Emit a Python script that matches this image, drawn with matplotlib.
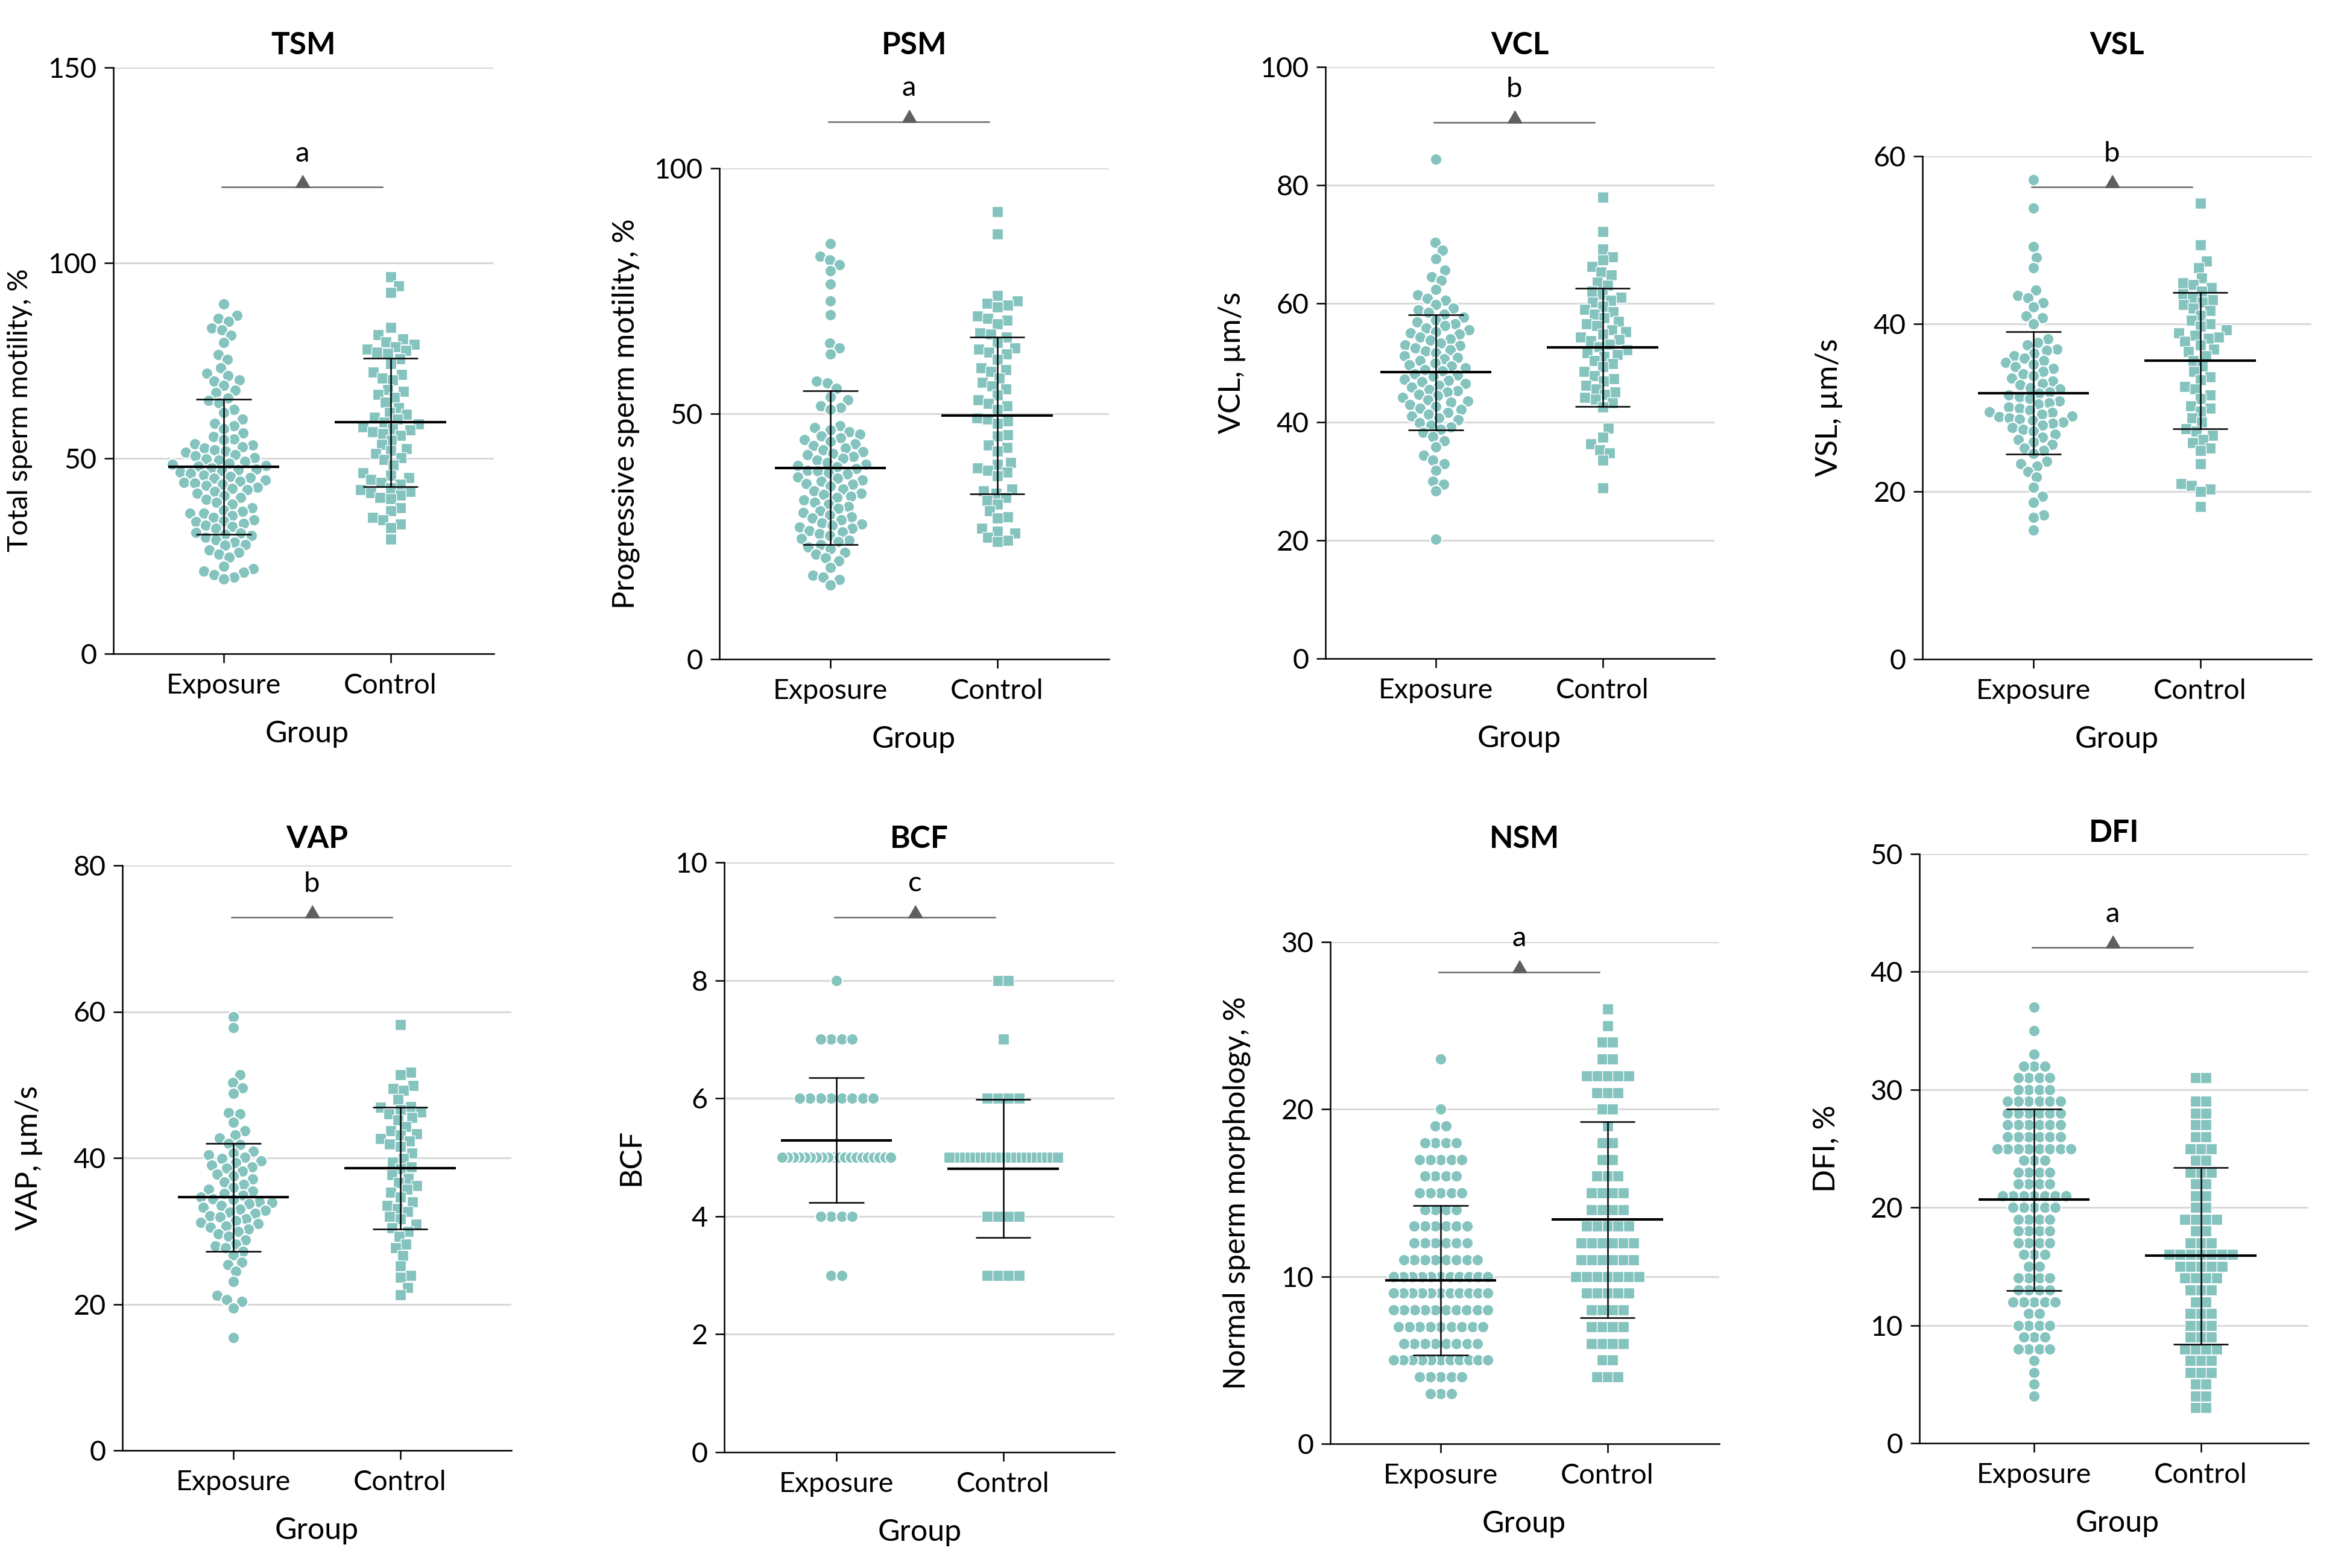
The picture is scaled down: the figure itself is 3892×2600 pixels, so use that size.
import numpy as np
import matplotlib.pyplot as plt
from collections import defaultdict

plt.rcParams['font.family'] = ['Lato', 'DejaVu Sans']

W, H, DPI = 3892, 2600, 200
TEAL = '#85c3bf'
PX_PER_CAT = 276.5   # pixel distance between the two group positions

groups = ['Exposure', 'Control']

# ---- values ---------------------------------------------------------------
tsm_exposure = [89.5, 86.6, 85.8, 85.1, 83.4, 82.9, 81.5, 79.6, 76.6, 75.3, 73.2, 71.8, 71.2, 70.0, 69.8,
                68.7, 67.5, 66.8, 65.5, 64.8, 64.2, 62.5, 61.8, 60.0, 59.0, 58.4, 57.6, 56.5, 55.6, 55.0,
                54.8, 53.7, 53.4, 53.0, 52.6, 52.2, 51.8, 51.5, 51.0, 50.6, 50.1, 49.9, 49.6, 49.2, 48.8,
                48.4, 48.2, 48.0, 47.6, 47.2, 47.0, 46.9, 46.5, 46.1, 45.7, 45.3, 45.0, 44.9, 44.5, 44.2,
                43.8, 43.6, 43.4, 43.0, 42.6, 42.3, 42.0, 41.5, 41.0, 40.5, 40.0, 39.5, 38.8, 38.2, 37.4,
                36.8, 36.4, 36.0, 35.9, 35.4, 34.8, 34.3, 34.0, 33.8, 33.4, 32.9, 32.5, 32.1, 31.0, 30.8,
                30.6, 30.2, 29.8, 29.2, 28.6, 28.0, 27.8, 26.6, 26.0, 25.5, 24.7, 22.4, 21.7, 21.2, 20.8,
                20.2, 19.6, 19.2]
tsm_control = [96.5, 94.2, 92.4, 83.5, 81.6, 80.5, 79.8, 79.2, 78.6, 78.0, 77.6, 77.2, 76.8, 75.4, 74.2,
               72.0, 71.4, 70.6, 70.0, 67.6, 67.2, 66.3, 65.6, 64.3, 63.0, 61.8, 61.2, 60.5, 60.0, 59.2,
               58.8, 58.1, 57.6, 57.2, 56.8, 56.4, 55.9, 54.7, 53.5, 52.5, 52.0, 51.2, 50.2, 49.7, 48.3,
               46.3, 45.7, 45.1, 44.6, 43.8, 43.4, 42.5, 42.0, 41.5, 41.2, 40.6, 39.9, 39.6, 37.4, 36.5,
               34.8, 34.2, 33.2, 32.3, 29.3]
tsm_mean = [47.9, 59.2]
tsm_sd = [17.3, 16.4]

psm_exposure = [84.6, 82.1, 81.3, 80.3, 79.1, 76.4, 73.0, 70.2, 64.4, 63.4, 62.2, 56.6, 56.3, 55.2, 53.4,
                52.8, 51.6, 51.2, 50.8, 47.6, 47.2, 46.7, 46.3, 45.8, 45.5, 45.1, 44.7, 44.4, 43.9, 43.5,
                43.0, 42.6, 42.2, 41.9, 41.6, 41.3, 40.9, 40.6, 40.1, 39.7, 39.4, 39.2, 38.8, 38.5, 38.3,
                37.9, 37.7, 37.1, 36.8, 36.5, 36.2, 35.8, 35.6, 35.2, 34.7, 34.3, 33.8, 33.5, 33.2, 32.9,
                32.4, 32.0, 31.6, 31.1, 30.7, 30.2, 29.8, 29.4, 29.0, 28.7, 28.4, 27.8, 27.5, 27.3, 26.9,
                26.6, 26.2, 25.9, 25.5, 25.2, 24.6, 24.2, 23.9, 23.3, 22.9, 22.5, 21.8, 21.4, 20.6, 20.0,
                18.7, 17.1, 16.7, 16.2, 15.1]
psm_control = [91.1, 86.6, 74.1, 73.0, 72.5, 72.1, 71.7, 69.9, 69.4, 69.0, 68.3, 66.5, 66.2, 65.6, 64.5,
               63.4, 63.1, 62.5, 62.2, 61.1, 59.3, 59.0, 58.6, 57.3, 56.4, 55.7, 55.0, 53.8, 52.8, 52.1,
               51.6, 50.9, 49.1, 48.9, 48.5, 48.0, 45.7, 45.5, 43.6, 43.1, 42.4, 40.1, 39.7, 39.0, 38.5,
               38.1, 37.4, 34.7, 34.3, 33.8, 32.9, 32.3, 31.6, 30.2, 29.0, 28.7, 26.6, 26.1, 25.7, 24.8,
               24.2, 23.9]
psm_mean = [39.0, 49.6]
psm_sd = [15.7, 16.0]

vcl_exposure = [84.4, 70.3, 69.0, 67.6, 65.6, 64.5, 63.9, 62.4, 61.5, 60.9, 60.6, 59.8, 59.2, 58.9, 58.5,
                58.2, 57.7, 57.2, 56.9, 56.6, 56.3, 55.9, 55.6, 55.3, 55.0, 54.8, 54.3, 54.0, 53.8, 53.3,
                53.0, 52.9, 52.5, 52.2, 52.0, 51.7, 51.2, 50.9, 50.7, 50.4, 49.9, 49.6, 49.4, 49.1, 48.8,
                48.6, 48.1, 47.9, 47.7, 47.2, 47.0, 46.8, 46.5, 46.2, 45.9, 45.5, 45.3, 45.1, 44.6, 44.4,
                44.1, 43.7, 43.5, 43.3, 42.9, 42.6, 42.3, 42.1, 41.6, 41.3, 41.0, 40.7, 40.4, 39.9, 39.5,
                39.1, 38.7, 38.2, 37.5, 36.8, 35.8, 34.4, 33.5, 32.9, 31.8, 30.0, 29.5, 28.3, 20.2]
vcl_control = [78.0, 72.2, 69.2, 67.9, 67.4, 66.3, 65.3, 64.8, 63.6, 63.1, 62.1, 61.6, 61.1, 60.6, 60.2,
               59.5, 59.0, 58.6, 58.2, 57.6, 57.0, 56.6, 56.3, 55.6, 55.3, 54.8, 54.3, 53.9, 53.7, 53.1,
               52.7, 52.2, 51.7, 51.4, 51.1, 50.4, 49.8, 49.3, 48.5, 47.8, 47.3, 46.9, 46.2, 45.6, 45.1,
               44.6, 44.1, 43.8, 43.2, 42.5, 38.9, 37.4, 36.3, 35.3, 34.8, 33.5, 28.8]
vcl_mean = [48.4, 52.6]
vcl_sd = [9.75, 10.0]

vsl_exposure = [57.2, 53.8, 49.2, 47.9, 46.7, 44.0, 43.4, 43.1, 42.5, 42.0, 40.9, 40.7, 40.0, 38.2, 37.8,
                37.5, 37.0, 36.8, 36.5, 36.2, 35.9, 35.6, 35.4, 35.2, 34.9, 34.7, 34.3, 34.0, 33.8, 33.5,
                33.2, 32.9, 32.7, 32.4, 32.2, 31.9, 31.7, 31.5, 31.3, 31.1, 30.8, 30.6, 30.4, 30.1, 29.9,
                29.7, 29.5, 29.4, 29.2, 29.0, 28.9, 28.8, 28.6, 28.5, 28.3, 28.1, 27.9, 27.6, 27.4, 27.2,
                26.8, 26.5, 26.2, 25.9, 25.6, 25.2, 24.9, 24.5, 23.6, 23.3, 23.0, 22.4, 21.7, 20.5, 19.4,
                18.7, 17.2, 16.9, 15.4]
vsl_control = [54.4, 49.4, 47.5, 46.7, 45.5, 44.9, 44.7, 44.3, 43.9, 43.6, 43.2, 42.9, 42.6, 42.3, 41.9,
               41.6, 41.0, 40.4, 40.0, 39.7, 39.3, 38.9, 38.6, 38.4, 38.3, 37.9, 37.5, 37.0, 36.7, 36.2,
               35.6, 35.0, 34.3, 33.7, 33.3, 32.5, 32.2, 31.5, 31.1, 30.2, 29.9, 29.6, 28.8, 28.3, 27.5,
               27.2, 26.7, 26.2, 25.8, 25.2, 24.9, 23.3, 20.9, 20.7, 20.3, 20.0, 18.2]
vsl_mean = [31.75, 35.6]
vsl_sd = [7.3, 8.15]

vap_exposure = [59.3, 57.8, 51.4, 50.3, 49.6, 48.8, 46.2, 46.0, 44.9, 43.7, 43.1, 42.7, 42.0, 41.8, 40.9,
                40.7, 40.4, 40.1, 39.9, 39.6, 39.3, 39.0, 38.8, 38.6, 38.2, 37.8, 37.5, 37.1, 36.7, 36.4,
                36.0, 35.7, 35.5, 35.1, 34.9, 34.6, 34.4, 34.3, 34.0, 33.9, 33.7, 33.5, 33.2, 33.0, 32.8,
                32.6, 32.4, 32.1, 31.9, 31.7, 31.4, 31.2, 31.0, 30.7, 30.5, 30.3, 29.9, 29.6, 29.3, 28.8,
                28.2, 28.0, 27.7, 27.2, 26.7, 25.7, 25.4, 24.5, 23.1, 21.2, 20.6, 20.4, 19.5, 15.4]
vap_control = [58.2, 51.7, 51.4, 49.9, 49.5, 49.2, 48.0, 47.0, 46.9, 46.6, 46.3, 46.0, 45.5, 45.2, 44.3,
               43.7, 43.3, 43.1, 42.6, 42.3, 41.9, 41.6, 40.7, 39.9, 39.4, 38.8, 38.5, 37.7, 37.2, 36.6,
               36.2, 35.7, 35.3, 34.6, 34.0, 33.5, 33.1, 32.7, 32.0, 31.7, 30.9, 30.4, 29.9, 29.3, 28.2,
               27.7, 26.6, 25.2, 23.9, 23.7, 22.3, 21.3]
vap_mean = [34.6, 38.6]
vap_sd = [7.4, 8.3]

# integer-valued measures: levels and how many men sit on each level
bcf_levels = [8, 7, 6, 5, 4, 3]
bcf_exposure_counts = [1, 4, 8, 20, 4, 2]
bcf_control_counts = [2, 1, 4, 22, 4, 4]
bcf_mean = [5.29, 4.81]
bcf_sd = [1.06, 1.17]

nsm_levels = [26, 25, 24, 23, 22, 21, 20, 19, 18, 17, 16, 15, 14, 13, 12, 11, 10, 9, 8, 7, 6, 5, 4, 3]
nsm_exposure_counts = [0, 0, 0, 1, 0, 0, 1, 2, 4, 5, 4, 5, 4, 6, 6, 8, 11, 11, 10, 9, 8, 11, 5, 3]
nsm_control_counts = [1, 1, 2, 2, 5, 3, 2, 1, 2, 2, 3, 4, 4, 5, 6, 6, 7, 5, 4, 4, 4, 2, 3, 0]
nsm_mean = [9.77, 13.4]
nsm_sd = [4.48, 5.87]

dfi_levels = [37, 36, 35, 34, 33, 32, 31, 30, 29, 28, 27, 26, 25, 24, 23, 22, 21, 20, 19, 18, 17, 16, 15,
              14, 13, 12, 11, 10, 9, 8, 7, 6, 5, 4, 3]
dfi_exposure_counts = [1, 0, 1, 0, 1, 3, 4, 4, 6, 6, 6, 6, 8, 3, 4, 4, 7, 5, 4, 4, 4, 3, 2,
                       4, 4, 5, 2, 4, 3, 4, 1, 1, 1, 1, 0]
dfi_control_counts = [0, 0, 0, 0, 0, 0, 2, 0, 2, 2, 2, 2, 3, 2, 3, 2, 2, 2, 4, 2, 3, 7, 5,
                      4, 3, 2, 3, 3, 3, 4, 3, 3, 2, 2, 2]
dfi_mean = [20.65, 15.9]
dfi_sd = [7.7, 7.5]

titles = ['TSM', 'PSM', 'VCL', 'VSL', 'VAP', 'BCF', 'NSM', 'DFI']
ylabels = ['Total sperm motility, %', 'Progressive sperm motility, %', 'VCL, µm/s', 'VSL, µm/s',
           'VAP, µm/s', 'BCF', 'Normal sperm morphology, %', 'DFI, %']
sig_letters = ['a', 'a', 'b', 'b', 'b', 'c', 'a', 'a']
bracket_y = [119.4, 109.5, 90.6, 56.3, 72.9, 9.07, 28.2, 42.06]
y_max = [150, 100, 100, 60, 80, 10, 30, 50]
y_step = [50, 50, 20, 20, 20, 2, 10, 10]

exposure = [tsm_exposure, psm_exposure, vcl_exposure, vsl_exposure, vap_exposure,
            np.repeat(bcf_levels, bcf_exposure_counts), np.repeat(nsm_levels, nsm_exposure_counts),
            np.repeat(dfi_levels, dfi_exposure_counts)]
control = [tsm_control, psm_control, vcl_control, vsl_control, vap_control,
           np.repeat(bcf_levels, bcf_control_counts), np.repeat(nsm_levels, nsm_control_counts),
           np.repeat(dfi_levels, dfi_control_counts)]
means = [tsm_mean, psm_mean, vcl_mean, vsl_mean, vap_mean, bcf_mean, nsm_mean, dfi_mean]
sds = [tsm_sd, psm_sd, vcl_sd, vsl_sd, vap_sd, bcf_sd, nsm_sd, dfi_sd]

# ---- layout (pixels in the 3892x2600 canvas) -------------------------------
# left, right, top, bottom of each plot area, x of the Exposure column, title y
boxes = [(188, 819, 112, 1084), (1193, 1839, 279, 1093), (2198, 2843, 111, 1092), (3188, 3833, 259, 1093),
         (203, 848, 1435, 2405), (1201, 1848, 1430, 2408), (2206, 2851, 1562, 2394), (3183, 3828, 1416, 2393)]
exposure_px = [371, 1377, 2381, 3372, 387, 1387, 2389, 3373]
title_px = [75, 75, 75, 75, 1392, 1392, 1392, 1381]
max_half = [92, 92, 92, 92, 92, 90, 78, 80]


def swarm_offsets(vals, py, d=17.5, maxhalf=90.0):
    """Beeswarm x offsets in pixels for values vals (py = pixels per unit)."""
    vals = np.asarray(vals, float)
    y = vals * py
    xs = np.zeros(len(y))
    done = []
    for i in np.argsort(y, kind='stable'):
        near = [j for j in done if abs(y[i] - y[j]) < d]
        cands = [0.0]
        for j in near:
            dx = np.sqrt(d * d - (y[i] - y[j]) ** 2)
            cands += [xs[j] + dx, xs[j] - dx]
        cands.sort(key=abs)
        for c in cands:
            if all((c - xs[j]) ** 2 + (y[i] - y[j]) ** 2 >= d * d - 1e-6 for j in near):
                xs[i] = c
                break
        done.append(i)
    rows = defaultdict(list)
    for i, v in enumerate(vals):
        rows[v].append(i)
    for idx in rows.values():
        if len(idx) > 1:
            idx = np.array(idx)
            xs[idx] -= (xs[idx].max() + xs[idx].min()) / 2
            m = np.abs(xs[idx]).max()
            if m > maxhalf:
                xs[idx] *= maxhalf / m
    m = np.abs(xs).max()
    if m > maxhalf:
        xs *= maxhalf / m
    return xs


fig = plt.figure(figsize=(W / DPI, H / DPI), dpi=DPI)

for k in range(8):
    l, r, t, b = boxes[k]
    ax = fig.add_axes([l / W, 1 - b / H, (r - l) / W, (b - t) / H])
    x0 = -(exposure_px[k] - l) / PX_PER_CAT
    ax.set_xlim(x0, x0 + (r - l) / PX_PER_CAT)
    ax.set_ylim(0, y_max[k])
    py = (b - t) / y_max[k]

    for g, (vals, mk, ms, mew) in enumerate([(exposure[k], 'o', 7.0, 0.8), (control[k], 's', 6.4, 0.45)]):
        off = swarm_offsets(vals, py, maxhalf=max_half[k]) / PX_PER_CAT
        ax.plot(g + off, vals, linestyle='none', marker=mk, ms=ms, mfc=TEAL, mec='white', mew=mew,
                zorder=2, clip_on=False)
        m, s = means[k][g], sds[k][g]
        ax.plot([g - 0.333, g + 0.333], [m, m], color='black', lw=1.5, zorder=4, solid_capstyle='butt')
        ax.plot([g, g], [m - s, m + s], color='black', lw=0.9, zorder=4)
        for yy in (m - s, m + s):
            ax.plot([g - 0.166, g + 0.166], [yy, yy], color='black', lw=0.9, zorder=4,
                    solid_capstyle='butt')

    # significance bracket
    by = bracket_y[k]
    ax.plot([-0.01, 0.95], [by, by], color='#6a6a6a', lw=0.9, clip_on=False, zorder=3)
    ax.plot([0.47], [by], linestyle='none', marker=[(-0.58, 0), (0.58, 0), (0, 1)], ms=14,
            color='#5f5f5f', clip_on=False, zorder=3)
    ax.annotate(sig_letters[k], (0.47, by), xytext=(0, 20), textcoords='offset points',
                ha='center', va='center', fontsize=17, annotation_clip=False)

    ax.set_yticks(np.arange(0, y_max[k] + 0.01, y_step[k]))
    ax.set_xticks([0, 1])
    ax.set_xticklabels(groups)
    ax.yaxis.grid(True, color='#d9d9d9', lw=1.1)
    ax.set_axisbelow(True)
    for side in ('top', 'right'):
        ax.spines[side].set_visible(False)
    for side in ('left', 'bottom'):
        ax.spines[side].set_linewidth(0.9)
    ax.tick_params(axis='both', length=5.4, width=0.9, labelsize=16.8)
    ax.tick_params(axis='x', pad=6)
    ax.tick_params(axis='y', pad=4.5)

    ax.set_xlabel('Group', fontsize=18, va='center')
    ax.xaxis.set_label_coords((exposure_px[k] + PX_PER_CAT / 2 - l) / (r - l), -133 / (b - t))
    if k == 0:
        # the original sets this label in a condensed face; a smaller size keeps its length
        ax.set_ylabel(ylabels[k], fontsize=16.8, va='center')
        ax.yaxis.set_label_coords(-155 / (r - l), (b - 680) / (b - t))
    else:
        ax.set_ylabel(ylabels[k], fontsize=18, va='center')
        ax.yaxis.set_label_coords(-155 / (r - l), 0.5)

    fig.text((l + r) / 2 / W, 1 - title_px[k] / H, titles[k], ha='center', va='center',
             fontsize=18.5, fontweight='bold')

fig.savefig('out.png', dpi=DPI)
